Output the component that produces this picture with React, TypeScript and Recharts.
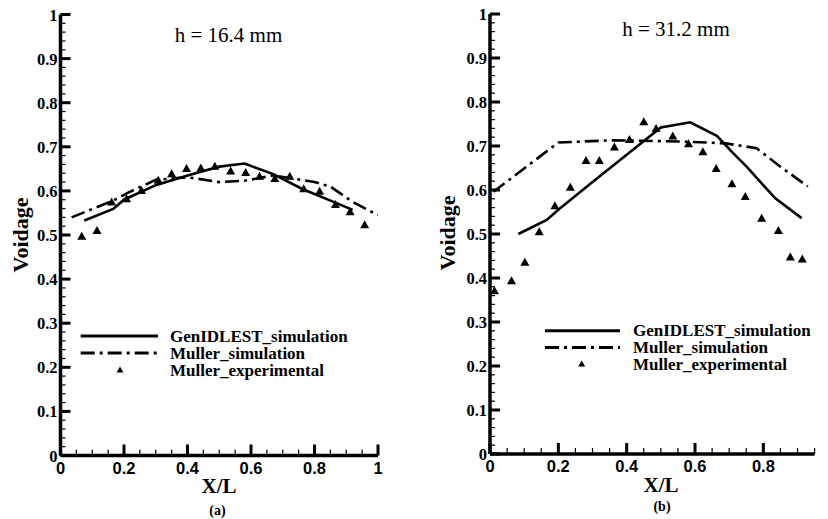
import React from 'react';
import { ComposedChart, Line, Scatter, XAxis, YAxis, Legend } from 'recharts';

// ---------- data (x = X/L, y = Voidage) ----------
const leftGenIDLEST: [number, number][] = [
  [0.075, 0.533], [0.166, 0.559], [0.2, 0.58], [0.3, 0.613], [0.4, 0.635], [0.5, 0.655],
  [0.58, 0.662], [0.67, 0.638], [0.76, 0.605], [0.86, 0.575], [0.92, 0.557],
];
const leftMullerSim: [number, number][] = [
  [0.035, 0.54], [0.166, 0.578], [0.21, 0.595], [0.3, 0.625], [0.4, 0.631], [0.5, 0.62],
  [0.58, 0.623], [0.67, 0.635], [0.8, 0.62], [0.85, 0.61], [0.92, 0.575], [1.0, 0.545],
];
const leftMullerExp: [number, number][] = [
  [0.067, 0.497], [0.115, 0.51], [0.161, 0.575], [0.208, 0.582], [0.255, 0.601],
  [0.308, 0.624], [0.35, 0.639], [0.397, 0.651], [0.442, 0.652], [0.486, 0.656],
  [0.536, 0.645], [0.583, 0.642], [0.627, 0.633], [0.675, 0.628], [0.722, 0.633],
  [0.766, 0.605], [0.816, 0.599], [0.866, 0.569], [0.912, 0.553], [0.958, 0.523],
];

const rightGenIDLEST: [number, number][] = [
  [0.083, 0.5], [0.166, 0.532], [0.2, 0.555], [0.3, 0.618], [0.4, 0.68], [0.5, 0.742],
  [0.586, 0.754], [0.664, 0.723], [0.71, 0.685], [0.751, 0.653], [0.795, 0.615],
  [0.835, 0.581], [0.912, 0.536],
];
const rightMullerSim: [number, number][] = [
  [0.01, 0.596], [0.2, 0.708], [0.36, 0.713], [0.57, 0.71], [0.69, 0.706],
  [0.78, 0.695], [0.85, 0.653], [0.93, 0.608],
];
const rightMullerExp: [number, number][] = [
  [0.013, 0.371], [0.063, 0.394], [0.102, 0.436], [0.144, 0.505], [0.19, 0.564],
  [0.235, 0.606], [0.281, 0.667], [0.32, 0.667], [0.364, 0.698], [0.408, 0.715],
  [0.45, 0.755], [0.486, 0.74], [0.535, 0.723], [0.581, 0.705], [0.623, 0.687],
  [0.662, 0.649], [0.708, 0.614], [0.747, 0.585], [0.795, 0.536], [0.844, 0.508],
  [0.879, 0.448], [0.914, 0.443],
];

const seriesNames = ['GenIDLEST_simulation', 'Muller_simulation', 'Muller_experimental'];
const yMajorTicks = [0, 0.1, 0.2, 0.3, 0.4, 0.5, 0.6, 0.7, 0.8, 0.9, 1];
const xMajorTicks = [0, 0.2, 0.4, 0.6, 0.8, 1];
const titles = ['h = 16.4 mm', 'h = 31.2 mm'];
const panelLabels = ['(a)', '(b)'];

// ---------- helpers ----------
const toPts = (a: [number, number][]) => a.map(([x, y]) => ({ x, y }));
const stepTicks = (max: number, step: number) => {
  const out: number[] = [];
  const n = Math.round(max / step);
  for (let i = 0; i <= n; i++) out.push(Math.round(i * step * 1000) / 1000);
  return out;
};
const isIn = (v: number, list: number[]) => list.some((m) => Math.abs(m - v) < 1e-6);
const fmt = (v: number) => (v === 0 ? '0' : v === 1 ? '1' : v.toFixed(1));

const SERIF = '"Liberation Serif", "Times New Roman", serif';
const SANS = '"Liberation Sans", Arial, sans-serif';
const DASHDOT = '14 5 3 5';

const YTick = (props: any) => {
  const { x, y, payload } = props;
  const v = payload.value;
  const major = isIn(v, yMajorTicks);
  return (
    <g>
      <line x1={x} x2={x + (major ? 10 : 5)} y1={y} y2={y} stroke="#000" strokeWidth={major ? 3 : 1.2} />
      {major && (
        <text x={x - 3} y={y + 6} textAnchor="end" fontFamily={SERIF} fontWeight="bold" fontSize={16.5} fill="#000">
          {fmt(v)}
        </text>
      )}
    </g>
  );
};

const XTick = (props: any) => {
  const { x, y, payload } = props;
  const v = payload.value;
  const major = isIn(v, xMajorTicks);
  return (
    <g>
      <line x1={x} x2={x} y1={y} y2={y - (major ? 11 : 6)} stroke="#000" strokeWidth={major ? 3 : 1.2} />
      {major && (
        <text x={x} y={y + 18} textAnchor="middle" fontFamily={SANS} fontWeight="bold" fontSize={16.5} fill="#000">
          {fmt(v)}
        </text>
      )}
    </g>
  );
};

const Tri = (props: any) => {
  const { cx, cy } = props;
  if (cx == null || cy == null) return null;
  return <polygon points={`${cx - 4.5},${cy + 3.5} ${cx + 4.5},${cy + 3.5} ${cx},${cy - 4.5}`} fill="#000" />;
};

const LegendBox = ({ lineX1, lineX2, textX, triX, rowY, gap }: any) => (
  <svg width={260} height={70} style={{ overflow: 'visible' }}>
    <line x1={lineX1} x2={lineX2} y1={rowY} y2={rowY} stroke="#000" strokeWidth={3} />
    <line x1={lineX1} x2={lineX2} y1={rowY + gap} y2={rowY + gap} stroke="#000" strokeWidth={3} strokeDasharray={DASHDOT} />
    <polygon points={`${triX - 3.5},${rowY + 2 * gap + 2.5} ${triX + 3.5},${rowY + 2 * gap + 2.5} ${triX},${rowY + 2 * gap - 3.5}`} fill="#000" />
    {seriesNames.map((n, i) => (
      <text key={n} x={textX} y={rowY + i * gap + 5.5} fontFamily={SERIF} fontWeight="bold" fontSize={17} fill="#000">
        {n}
      </text>
    ))}
  </svg>
);

type PanelProps = {
  gen: [number, number][];
  sim: [number, number][];
  exp: [number, number][];
  xMax: number;
  margin: { top: number; right: number; bottom: number; left: number };
  title: string;
  panel: string;
  titleX: number;
  titleY: number;
  xlabX: number;
  xlabY: number;
  panX: number;
  panY: number;
  yLabX: number;
  yLabY: number;
  legendPos: { left: number; top: number };
  legendGeom: any;
};

const Panel = (p: PanelProps) => (
  <ComposedChart width={414} height={519} margin={p.margin}>
    <XAxis
      type="number"
      dataKey="x"
      domain={[0, p.xMax]}
      ticks={stepTicks(p.xMax, 0.05)}
      interval={0}
      height={1}
      tickSize={0}
      tickMargin={0}
      tick={<XTick />}
      axisLine={{ stroke: '#000', strokeWidth: 3.5 }}
      allowDataOverflow
    />
    <YAxis
      type="number"
      dataKey="y"
      domain={[0, 1]}
      ticks={stepTicks(1, 0.02)}
      interval={0}
      width={1}
      tickSize={0}
      tickMargin={0}
      tick={<YTick />}
      axisLine={{ stroke: '#000', strokeWidth: 3.5 }}
    />
    <Line data={toPts(p.gen)} dataKey="y" type="linear" stroke="#000" strokeWidth={2.6} dot={false} isAnimationActive={false} name={seriesNames[0]} />
    <Line data={toPts(p.sim)} dataKey="y" type="linear" stroke="#000" strokeWidth={2.6} strokeDasharray={DASHDOT} dot={false} isAnimationActive={false} name={seriesNames[1]} />
    <Scatter data={toPts(p.exp)} dataKey="y" fill="#000" shape={<Tri />} isAnimationActive={false} name={seriesNames[2]} />
    <Legend
      layout="vertical"
      align="center"
      verticalAlign="middle"
      wrapperStyle={{ position: 'absolute', left: p.legendPos.left, top: p.legendPos.top, width: 260, height: 70 }}
      content={() => <LegendBox {...p.legendGeom} />}
    />
    <text x={p.titleX} y={p.titleY} textAnchor="middle" fontFamily={SERIF} fontSize={21} fill="#000">{p.title}</text>
    <text x={p.xlabX} y={p.xlabY} textAnchor="middle" fontFamily={SERIF} fontWeight="bold" fontSize={21} fill="#000">X/L</text>
    <text x={p.panX} y={p.panY} textAnchor="middle" fontFamily={SERIF} fontWeight="bold" fontSize={14} fill="#000">{p.panel}</text>
    <text
      x={p.yLabX}
      y={p.yLabY}
      textAnchor="middle"
      dominantBaseline="central"
      transform={`rotate(-90 ${p.yLabX} ${p.yLabY})`}
      fontFamily={SERIF}
      fontWeight="bold"
      fontSize={22}
      fill="#000"
    >
      Voidage
    </text>
  </ComposedChart>
);

export default function App() {
  return (
    <div style={{ position: 'absolute', left: 0, top: 0, width: 828, height: 519, background: '#fff' }}>
      <div style={{ position: 'absolute', left: 0, top: 0 }}>
        <Panel
          gen={leftGenIDLEST}
          sim={leftMullerSim}
          exp={leftMullerExp}
          xMax={1}
          margin={{ top: 14.5, right: 36, bottom: 62.5, left: 59.5 }}
          title={titles[0]}
          panel={panelLabels[0]}
          titleX={228.5}
          titleY={41.5}
          xlabX={219}
          xlabY={493}
          panX={217.5}
          panY={515}
          yLabX={20}
          yLabY={235}
          legendPos={{ left: 70, top: 320 }}
          legendGeom={{ lineX1: 10.7, lineX2: 88, textX: 100, triX: 50, rowY: 16, gap: 17 }}
        />
      </div>
      <div style={{ position: 'absolute', left: 414, top: 0 }}>
        <Panel
          gen={rightGenIDLEST}
          sim={rightMullerSim}
          exp={rightMullerExp}
          xMax={0.95}
          margin={{ top: 14, right: 13.4, bottom: 64, left: 75 }}
          title={titles[1]}
          panel={panelLabels[1]}
          titleX={262}
          titleY={35.5}
          xlabX={247}
          xlabY={492}
          panX={248}
          panY={511}
          yLabX={33}
          yLabY={233}
          legendPos={{ left: 121, top: 315 }}
          legendGeom={{ lineX1: 10, lineX2: 85, textX: 98, triX: 46.7, rowY: 15.7, gap: 16.7 }}
        />
      </div>
    </div>
  );
}
